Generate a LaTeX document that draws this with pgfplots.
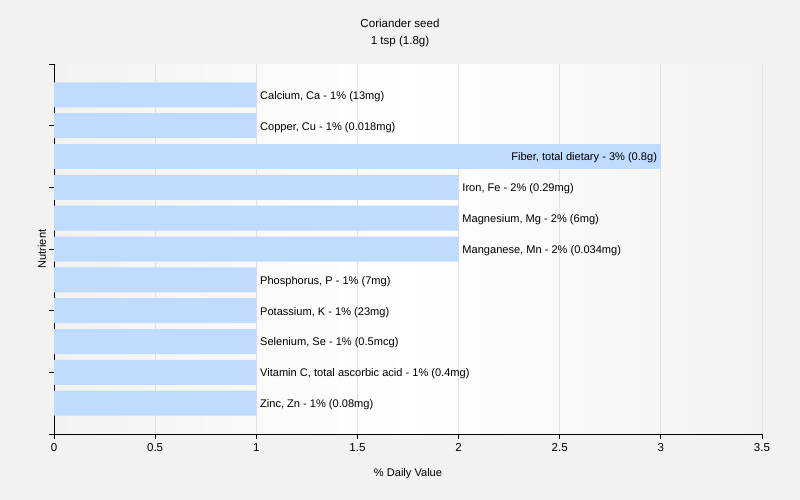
\documentclass[border=0pt]{standalone}
\usepackage{pgfplots}
\pgfplotsset{compat=1.18}
\usepackage{fontspec}
\setmainfont{Liberation Sans}
\definecolor{bg}{RGB}{242,242,241}
\definecolor{barc}{RGB}{191,219,255}
\definecolor{gridc}{RGB}{226,226,226}
\newcommand{\fs}{\fontsize{11.1}{13.3}\selectfont}
\begin{document}
\fs
\begin{tikzpicture}
\fill[bg] (-54bp,-66bp) rectangle (746bp,434bp);
\begin{axis}[
  at={(0,0)}, anchor=south west,
  scale only axis, width=708bp, height=370bp,
  xmin=0, xmax=3.5, ymin=-1, ymax=11, y dir=reverse,
  xtick={0,0.5,1,1.5,2,2.5,3,3.5},
  xticklabels={0,0.5,1,1.5,2,2.5,3,3.5},
  ytick={-1,1,3,5,7,9,11}, yticklabels={},
  axis x line*=bottom, axis y line*=left,
  tick align=outside, major tick length=5bp,
  xmajorgrids, grid style={gridc, line width=0.8bp},
  axis line style={black, line width=1bp, -}, tick style={black, line width=1bp},
  axis background/.style={left color=bg, right color=bg, middle color=white},
  xbar, bar width=25bp, bar shift=0pt,
  font=\fs,
  ticklabel style={font=\fontsize{11.6}{14}\selectfont},
  xticklabel style={yshift=-0.5bp},
  /pgf/number format/assume math mode=true,
  nodes near coords, nodes near coords align=horizontal,
  point meta=explicit symbolic,
  every node near coord/.append style={anchor=west, black, font=\fs, yshift=-1.5bp},
]
\addplot[fill=barc, draw=none] coordinates {
(1,0) [Calcium, Ca - 1\% (13mg)]
(1,1) [Copper, Cu - 1\% (0.018mg)]
(2,3) [Iron, Fe - 2\% (0.29mg)]
(2,4) [Magnesium, Mg - 2\% (6mg)]
(2,5) [Manganese, Mn - 2\% (0.034mg)]
(1,6) [Phosphorus, P - 1\% (7mg)]
(1,7) [Potassium, K - 1\% (23mg)]
(1,8) [Selenium, Se - 1\% (0.5mcg)]
(1,9) [Vitamin C, total ascorbic acid - 1\% (0.4mg)]
(1,10) [Zinc, Zn - 1\% (0.08mg)]
};
\addplot[fill=barc, draw=none, every node near coord/.append style={anchor=east}] coordinates {
(3,2) [Fiber, total dietary - 3\% (0.8g)]
};
\end{axis}
\node[align=center, font=\fontsize{11.6}{18}\selectfont] at (346bp,401bp) {Coriander seed\\1 tsp (1.8g)};
\node at (354bp,-40bp) {\% Daily Value};
\node[rotate=90] at (-12bp,185bp) {Nutrient};
\end{tikzpicture}
\end{document}
